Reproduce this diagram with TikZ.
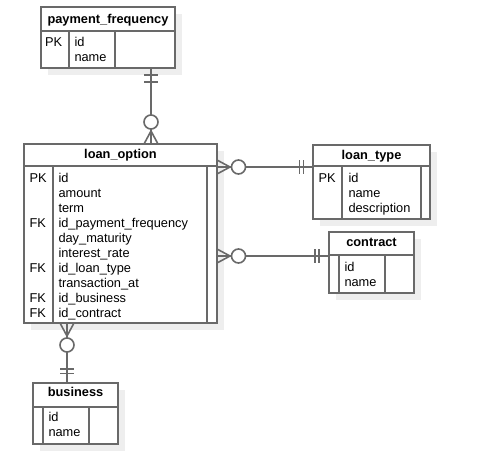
\documentclass[tikz,border=0pt]{standalone}
\usepackage{fontspec}
\setmainfont{Liberation Sans}
\usetikzlibrary{calc,shadows}
\definecolor{lc}{RGB}{105,105,105}
\definecolor{shc}{RGB}{238,238,238}
\begin{document}
\begin{tikzpicture}[x=1pt,y=-1pt,
  lw/.style={line width=1.6pt},
  tbl/.style={draw=lc, lw, fill=white, inner sep=0pt, outer sep=0pt, anchor=north west,
    drop shadow={shadow xshift=7pt, shadow yshift=-7pt, fill=shc, opacity=1, draw=none}},
  sep/.style={draw=lc, lw},
  hdr/.style={font=\fontsize{12.8}{15}\selectfont\bfseries, anchor=base, inner sep=0pt},
  fld/.style={font=\fontsize{12.8}{15}\selectfont, anchor=base west, inner sep=0pt},
  conn/.style={draw=lc, lw},
  ring/.style={circle, draw=lc, lw, fill=white, minimum size=14pt, inner sep=0pt},
]
\useasboundingbox[fill=white] (0,0) rectangle (490,459);

% ---------- payment_frequency ----------
\node[tbl, minimum width=134pt, minimum height=61pt] (pf) at (41,7) {};
\draw[sep] (pf.west |- 0,31) -- (pf.east |- 0,31);
\draw[sep] (69,31) -- (69,0 |- pf.south);
\draw[sep] (115,31) -- (115,0 |- pf.south);
\node[hdr] (pfh) at (108,23.3) {payment\_frequency};
\node[fld] (pfk1) at (45,46.7) {PK};
\node[fld] (pff1) at (74.3,46.7) {id};
\node[fld] (pff2) at (74.3,61.7) {name};

% ---------- loan_option ----------
\node[tbl, minimum width=193pt, minimum height=179pt] (lo) at (24,144) {};
\draw[sep] (lo.west |- 0,166) -- (lo.east |- 0,166);
\draw[sep] (53,166) -- (53,0 |- lo.south);
\draw[sep] (207,166) -- (207,0 |- lo.south);
\node[hdr] (loh) at (120.5,158.3) {loan\_option};
\foreach \t [count=\i] in {id,amount,term,id\_payment\_frequency,day\_maturity,interest\_rate,id\_loan\_type,transaction\_at,id\_business,id\_contract}
  \node[fld] (lof\i) at (58.3,167.3+15*\i) {\t};
\node[fld] (lok1) at (29.3,182.3) {PK};
\node[fld] (lok4) at (29.3,227.3) {FK};
\node[fld] (lok7) at (29.3,272.3) {FK};
\node[fld] (lok9) at (29.3,302.3) {FK};
\node[fld] (lok10) at (29.3,317.3) {FK};

% ---------- loan_type ----------
\node[tbl, minimum width=117pt, minimum height=74pt] (lt) at (313,145) {};
\draw[sep] (lt.west |- 0,166) -- (lt.east |- 0,166);
\draw[sep] (342,166) -- (342,0 |- lt.south);
\draw[sep] (421,166) -- (421,0 |- lt.south);
\node[hdr] (lth) at (371.5,159.3) {loan\_type};
\node[fld] (ltk1) at (318.3,182.3) {PK};
\node[fld] (ltf1) at (348.3,182.3) {id};
\node[fld] (ltf2) at (348.3,197.3) {name};
\node[fld] (ltf3) at (348.3,212.3) {description};

% ---------- contract ----------
\node[tbl, minimum width=85pt, minimum height=61pt] (ct) at (329,232) {};
\draw[sep] (ct.west |- 0,255) -- (ct.east |- 0,255);
\draw[sep] (339,255) -- (339,0 |- ct.south);
\draw[sep] (385,255) -- (385,0 |- ct.south);
\node[hdr] (cth) at (371.5,246.7) {contract};
\node[fld] (ctf1) at (344.3,271) {id};
\node[fld] (ctf2) at (344.3,286) {name};

% ---------- business ----------
\node[tbl, minimum width=85pt, minimum height=61pt] (bu) at (33,383) {};
\draw[sep] (bu.west |- 0,407) -- (bu.east |- 0,407);
\draw[sep] (43,407) -- (43,0 |- bu.south);
\draw[sep] (89,407) -- (89,0 |- bu.south);
\node[hdr] (buh) at (75.5,396.7) {business};
\node[fld] (buf1) at (48.3,421.7) {id};
\node[fld] (buf2) at (48.3,436.7) {name};

% ---------- connector payment_frequency -- loan_option ----------
\coordinate (a1) at (151,0 |- pf.south);
\coordinate (b1) at (151,0 |- lo.north);
\draw[conn] (a1) -- (b1);
\draw[conn] ($(a1)+(-7,7)$) -- ($(a1)+(7,7)$);
\draw[conn] ($(a1)+(-7,14)$) -- ($(a1)+(7,14)$);
\draw[conn] ($(b1)+(-7,0)$) -- ($(b1)+(0,-13)$) -- ($(b1)+(7,0)$);
\node[ring] (r1) at ($(b1)+(0,-22)$) {};

% ---------- connector loan_option -- loan_type ----------
\coordinate (a2) at (lo.east |- 0,167);
\coordinate (b2) at (lt.west |- 0,167);
\draw[conn] (a2) -- (b2);
\draw[conn] ($(a2)+(0,-7)$) -- ($(a2)+(13,0)$) -- ($(a2)+(0,7)$);
\node[ring] (r2) at ($(a2)+(21.5,0)$) {};
\draw[conn] ($(b2)+(-13.5,-7)$) -- ($(b2)+(-13.5,7)$);
\draw[conn] ($(b2)+(-9.5,-7)$) -- ($(b2)+(-9.5,7)$);

% ---------- connector loan_option -- contract ----------
\coordinate (a3) at (lo.east |- 0,256);
\coordinate (b3) at (ct.west |- 0,256);
\draw[conn] (a3) -- (b3);
\draw[conn] ($(a3)+(0,-7)$) -- ($(a3)+(13,0)$) -- ($(a3)+(0,7)$);
\node[ring] (r3) at ($(a3)+(21.5,0)$) {};
\draw[conn] ($(b3)+(-14,-7)$) -- ($(b3)+(-14,7)$);
\draw[conn] ($(b3)+(-10,-7)$) -- ($(b3)+(-10,7)$);

% ---------- connector loan_option -- business ----------
\coordinate (a4) at (67,0 |- lo.south);
\coordinate (b4) at (67,0 |- bu.north);
\draw[conn] (a4) -- (b4);
\draw[conn] ($(a4)+(-7,0)$) -- ($(a4)+(0,13)$) -- ($(a4)+(7,0)$);
\node[ring] (r4) at ($(a4)+(0,22)$) {};
\draw[conn] ($(b4)+(-7,-14)$) -- ($(b4)+(7,-14)$);
\draw[conn] ($(b4)+(-7,-9.5)$) -- ($(b4)+(7,-9.5)$);
\end{tikzpicture}
\end{document}
